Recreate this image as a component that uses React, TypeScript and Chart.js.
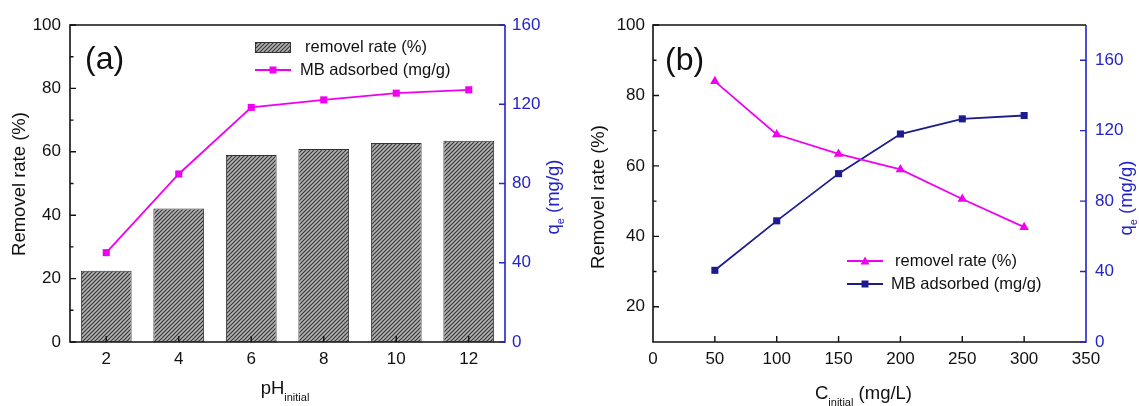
import React, { useEffect, useRef } from "react";
import { Chart, registerables } from "chart.js";

Chart.register(...registerables);

// ---------- data ----------
const phCategories = ["2", "4", "6", "8", "10", "12"];
const phRemovalRate = [22.5, 42.1, 59.0, 60.9, 62.8, 63.5];
const phAdsorbed = [45.1, 84.8, 118.4, 122.2, 125.6, 127.3];

const concValues = [50, 100, 150, 200, 250, 300];
const concRemovalRate = [84.0, 68.9, 63.4, 59.0, 50.6, 42.6];
const concAdsorbed = [40.7, 68.8, 95.6, 118.1, 126.7, 128.6];

const leftTicksA = [0, 20, 40, 60, 80, 100];
const leftMinorA = [10, 30, 50, 70, 90];
const rightTicksA = [0, 40, 80, 120, 160];
const leftTicksB = [20, 40, 60, 80, 100];
const leftMinorB = [30, 50, 70, 90];
const rightTicksB = [0, 40, 80, 120, 160];
const xTicksB = [0, 50, 100, 150, 200, 250, 300, 350];

const legendLabelRate = "removel rate (%)";
const legendLabelAds = "MB adsorbed (mg/g)";
const yTitle = "Removel rate (%)";

// ---------- styles ----------
const FONT = "'Liberation Sans', Arial, sans-serif";
const MAGENTA = "#f000f0";
const NAVY = "#1c1c8e";
const BLUE = "#2323c8";
const BLACK = "#111111";

function makeHatch(): CanvasPattern | string {
  const c = document.createElement("canvas");
  c.width = 4;
  c.height = 4;
  const g = c.getContext("2d");
  if (!g) return "#888";
  g.fillStyle = "#b2b2b2";
  g.fillRect(0, 0, 4, 4);
  g.strokeStyle = "#3a3a3a";
  g.lineWidth = 1.2;
  g.beginPath();
  g.moveTo(0, 4);
  g.lineTo(4, 0);
  g.moveTo(-1, 1);
  g.lineTo(1, -1);
  g.moveTo(3, 5);
  g.lineTo(5, 3);
  g.stroke();
  const p = g.createPattern(c, "repeat");
  return p || "#888";
}

type Part = { text: string; size: number; dy?: number };

function drawParts(ctx: CanvasRenderingContext2D, parts: Part[], x: number, y: number, align: "center" | "left") {
  let total = 0;
  for (const p of parts) {
    ctx.font = `${p.size}px ${FONT}`;
    total += ctx.measureText(p.text).width;
  }
  let cx = align === "center" ? x - total / 2 : x;
  ctx.textAlign = "left";
  ctx.textBaseline = "alphabetic";
  for (const p of parts) {
    ctx.font = `${p.size}px ${FONT}`;
    ctx.fillText(p.text, cx, y + (p.dy || 0));
    cx += ctx.measureText(p.text).width;
  }
}

function drawRotated(ctx: CanvasRenderingContext2D, parts: Part[], cx: number, cy: number, color: string) {
  ctx.save();
  ctx.translate(cx, cy);
  ctx.rotate(-Math.PI / 2);
  ctx.fillStyle = color;
  drawParts(ctx, parts, 0, 6, "center");
  ctx.restore();
}

function drawFrame(chart: any) {
  const { ctx, chartArea: a } = chart;
  ctx.save();
  ctx.lineWidth = 1.6;
  ctx.strokeStyle = BLACK;
  ctx.beginPath();
  ctx.moveTo(a.right, a.top);
  ctx.lineTo(a.left, a.top);
  ctx.lineTo(a.left, a.bottom);
  ctx.lineTo(a.right, a.bottom);
  ctx.stroke();
  ctx.strokeStyle = BLUE;
  ctx.beginPath();
  ctx.moveTo(a.right, a.top);
  ctx.lineTo(a.right, a.bottom + 0.8);
  ctx.stroke();
  ctx.restore();
}

function drawTicks(chart: any, leftMajor: number[], leftMinor: number[], rightMajor: number[], xPix: number[]) {
  const { ctx, chartArea: a, scales } = chart;
  ctx.save();
  ctx.lineWidth = 1.4;
  ctx.strokeStyle = BLACK;
  ctx.beginPath();
  for (const v of leftMajor) {
    const y = scales.y.getPixelForValue(v);
    ctx.moveTo(a.left, y);
    ctx.lineTo(a.left + 6, y);
  }
  for (const v of leftMinor) {
    const y = scales.y.getPixelForValue(v);
    ctx.moveTo(a.left, y);
    ctx.lineTo(a.left + 3.5, y);
  }
  for (const x of xPix) {
    ctx.moveTo(x, a.bottom);
    ctx.lineTo(x, a.bottom - 6);
  }
  ctx.stroke();
  ctx.strokeStyle = BLUE;
  ctx.beginPath();
  for (const v of rightMajor) {
    const y = scales.y1.getPixelForValue(v);
    ctx.moveTo(a.right, y);
    ctx.lineTo(a.right - 6, y);
  }
  ctx.stroke();
  ctx.restore();
}

function drawMarker(ctx: CanvasRenderingContext2D, kind: "rect" | "triangle", x: number, y: number, color: string) {
  ctx.fillStyle = color;
  ctx.beginPath();
  if (kind === "rect") {
    ctx.rect(x - 3.5, y - 3.5, 7, 7);
  } else {
    ctx.moveTo(x, y - 4.5);
    ctx.lineTo(x + 4.5, y + 3.5);
    ctx.lineTo(x - 4.5, y + 3.5);
    ctx.closePath();
  }
  ctx.fill();
}

function legendLine(ctx: CanvasRenderingContext2D, x0: number, x1: number, y: number, color: string, kind: "rect" | "triangle") {
  ctx.save();
  ctx.strokeStyle = color;
  ctx.lineWidth = 1.8;
  ctx.beginPath();
  ctx.moveTo(x0, y);
  ctx.lineTo(x1, y);
  ctx.stroke();
  drawMarker(ctx, kind, (x0 + x1) / 2, y, color);
  ctx.restore();
}

function legendText(ctx: CanvasRenderingContext2D, text: string, x: number, y: number) {
  ctx.save();
  ctx.fillStyle = BLACK;
  ctx.font = `16.5px ${FONT}`;
  ctx.textAlign = "left";
  ctx.textBaseline = "middle";
  ctx.fillText(text, x, y);
  ctx.restore();
}

function App() {
  const refA = useRef<HTMLCanvasElement>(null);
  const refB = useRef<HTMLCanvasElement>(null);

  useEffect(() => {
    if (!refA.current || !refB.current) return;
    const hatch = makeHatch();
    const tickFont = { family: FONT, size: 17 };

    const decorA = {
      id: "decorA",
      afterDraw(chart: any) {
        const { ctx, scales } = chart;
        drawFrame(chart);
        const xp = phCategories.map((_, i) => scales.x.getPixelForValue(i));
        drawTicks(chart, leftTicksA, leftMinorA, rightTicksA, xp);
        ctx.save();
        // panel label
        ctx.fillStyle = BLACK;
        ctx.font = `32px ${FONT}`;
        ctx.textAlign = "left";
        ctx.textBaseline = "middle";
        ctx.fillText("(a)", 85, 60);
        // axis titles
        drawRotated(ctx, [{ text: yTitle, size: 18.5 }], 19, 184, BLACK);
        drawRotated(
          ctx,
          [
            { text: "q", size: 18.5 },
            { text: "e", size: 11, dy: 5 },
            { text: " (mg/g)", size: 18.5 },
          ],
          553,
          197,
          BLUE
        );
        ctx.fillStyle = BLACK;
        drawParts(
          ctx,
          [
            { text: "pH", size: 18.5 },
            { text: "initial", size: 11, dy: 7 },
          ],
          285,
          394,
          "center"
        );
        // legend
        ctx.fillStyle = hatch as any;
        ctx.fillRect(255, 42, 36, 11);
        ctx.strokeStyle = "#333";
        ctx.lineWidth = 1;
        ctx.strokeRect(255.5, 42.5, 35, 10);
        ctx.restore();
        legendText(ctx, legendLabelRate, 305, 47);
        legendLine(ctx, 255, 291, 70, MAGENTA, "rect");
        legendText(ctx, legendLabelAds, 300, 70);
      },
    };

    const chartA = new Chart(refA.current, {
      type: "bar",
      data: {
        labels: phCategories,
        datasets: [
          {
            type: "line",
            label: legendLabelAds,
            data: phAdsorbed,
            yAxisID: "y1",
            borderColor: MAGENTA,
            backgroundColor: MAGENTA,
            borderWidth: 1.8,
            pointStyle: "rect",
            pointRadius: 5,
            pointBorderWidth: 0,
            order: 0,
          } as any,
          {
            type: "bar",
            label: legendLabelRate,
            data: phRemovalRate,
            yAxisID: "y",
            backgroundColor: hatch as any,
            borderColor: "#333333",
            borderWidth: 1,
            barPercentage: 0.7,
            categoryPercentage: 1,
            order: 1,
          } as any,
        ],
      },
      options: {
        responsive: false,
        animation: false,
        layout: { padding: { top: 25, left: 0, right: 0, bottom: 0 } },
        plugins: { legend: { display: false }, tooltip: { enabled: false } },
        scales: {
          x: {
            grid: { display: false, drawTicks: false },
            border: { display: false },
            ticks: { color: BLACK, font: tickFont, padding: 7, maxRotation: 0 },
            afterFit: (s: any) => {
              s.height = 64;
            },
          },
          y: {
            position: "left",
            min: 0,
            max: 100,
            grid: { display: false, drawTicks: false },
            border: { display: false },
            ticks: { stepSize: 20, color: BLACK, font: tickFont, padding: 9 },
            afterBuildTicks: (s: any) => {
              s.ticks = leftTicksA.map((v) => ({ value: v }));
            },
            afterFit: (s: any) => {
              s.width = 70;
            },
          },
          y1: {
            position: "right",
            min: 0,
            max: 160,
            grid: { display: false, drawTicks: false },
            border: { display: false },
            ticks: { stepSize: 40, color: BLUE, font: tickFont, padding: 7 },
            afterBuildTicks: (s: any) => {
              s.ticks = rightTicksA.map((v) => ({ value: v }));
            },
            afterFit: (s: any) => {
              s.width = 65;
            },
          },
        },
      } as any,
      plugins: [decorA],
    });

    const decorB = {
      id: "decorB",
      afterDraw(chart: any) {
        const { ctx, scales } = chart;
        drawFrame(chart);
        const xp = xTicksB.slice(1, -1).map((v) => scales.x.getPixelForValue(v));
        drawTicks(chart, leftTicksB, leftMinorB, rightTicksB, xp);
        ctx.save();
        ctx.fillStyle = BLACK;
        ctx.font = `32px ${FONT}`;
        ctx.textAlign = "left";
        ctx.textBaseline = "middle";
        ctx.fillText("(b)", 96, 61);
        drawRotated(ctx, [{ text: yTitle, size: 18.5 }], 29, 197, BLACK);
        drawRotated(
          ctx,
          [
            { text: "q", size: 18.5 },
            { text: "e", size: 11, dy: 5 },
            { text: " (mg/g)", size: 18.5 },
          ],
          557,
          198,
          BLUE
        );
        ctx.fillStyle = BLACK;
        drawParts(
          ctx,
          [
            { text: "C", size: 18.5 },
            { text: "initial", size: 11, dy: 7 },
            { text: " (mg/L)", size: 18.5 },
          ],
          246,
          399,
          "left"
        );
        ctx.restore();
        legendLine(ctx, 278, 314, 261, MAGENTA, "triangle");
        legendText(ctx, legendLabelRate, 326, 261);
        legendLine(ctx, 278, 314, 284, NAVY, "rect");
        legendText(ctx, legendLabelAds, 322, 284);
      },
    };

    const chartB = new Chart(refB.current, {
      type: "line",
      data: {
        datasets: [
          {
            label: legendLabelRate,
            data: concValues.map((x, i) => ({ x, y: concRemovalRate[i] })),
            yAxisID: "y",
            borderColor: MAGENTA,
            backgroundColor: MAGENTA,
            borderWidth: 1.8,
            pointStyle: "triangle",
            pointRadius: 5.5,
            pointBorderWidth: 0,
          },
          {
            label: legendLabelAds,
            data: concValues.map((x, i) => ({ x, y: concAdsorbed[i] })),
            yAxisID: "y1",
            borderColor: NAVY,
            backgroundColor: NAVY,
            borderWidth: 1.8,
            pointStyle: "rect",
            pointRadius: 5,
            pointBorderWidth: 0,
          },
        ],
      },
      options: {
        responsive: false,
        animation: false,
        layout: { padding: { top: 25, left: 0, right: 0, bottom: 0 } },
        plugins: { legend: { display: false }, tooltip: { enabled: false } },
        scales: {
          x: {
            type: "linear",
            min: 0,
            max: 350,
            grid: { display: false, drawTicks: false },
            border: { display: false },
            ticks: { stepSize: 50, color: BLACK, font: tickFont, padding: 7, maxRotation: 0 },
            afterBuildTicks: (s: any) => {
              s.ticks = xTicksB.map((v) => ({ value: v }));
            },
            afterFit: (s: any) => {
              s.height = 64;
            },
          },
          y: {
            position: "left",
            min: 10,
            max: 100,
            grid: { display: false, drawTicks: false },
            border: { display: false },
            ticks: { color: BLACK, font: tickFont, padding: 8 },
            afterBuildTicks: (s: any) => {
              s.ticks = leftTicksB.map((v) => ({ value: v }));
            },
            afterFit: (s: any) => {
              s.width = 84;
            },
          },
          y1: {
            position: "right",
            min: 0,
            max: 180,
            grid: { display: false, drawTicks: false },
            border: { display: false },
            ticks: { color: BLUE, font: tickFont, padding: 9 },
            afterBuildTicks: (s: any) => {
              s.ticks = rightTicksB.map((v) => ({ value: v }));
            },
            afterFit: (s: any) => {
              s.width = 53;
            },
          },
        },
      } as any,
      plugins: [decorB],
    });

    return () => {
      chartA.destroy();
      chartB.destroy();
    };
  }, []);

  return (
    <div style={{ position: "fixed", left: 0, top: 0, width: 1139, height: 406, background: "#ffffff" }}>
      <canvas ref={refA} width={570} height={406} style={{ position: "absolute", left: 0, top: 0 }} />
      <canvas ref={refB} width={570} height={406} style={{ position: "absolute", left: 569, top: 0 }} />
    </div>
  );
}

export default App;
